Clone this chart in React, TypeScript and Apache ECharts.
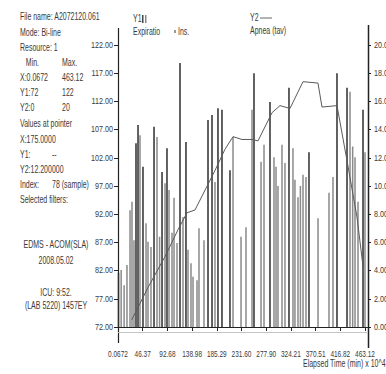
import React, { useEffect, useRef } from "react";
import * as echarts from "echarts";

// X axis (elapsed time) tick values and labels
const xTickValues = [0.0672, 46.37, 92.68, 138.98, 185.29, 231.6, 277.9, 324.21, 370.51, 416.82, 463.12];
const xTickLabels = ["0.0672", "46.37", "92.68", "138.98", "185.29", "231.60", "277.90", "324.21", "370.51", "416.82", "463.12"];
// Y1 (left) tick values
const y1Ticks = [72, 77, 82, 87, 92, 97, 102, 107, 112, 117, 122];
// Y2 (right) tick values
const y2Ticks = [0, 2, 4, 6, 8, 10, 12, 14, 16, 18, 20];

// Y1 bars: [elapsed time, value]
const darkBars: [number, number][] = [
  [1.0, 81.6], [33.8, 104.6], [37.6, 107.8], [46.9, 100.4], [67.6, 107.5],
  [82.6, 99.5], [91.9, 103.7], [116.3, 118.8], [127.5, 104.8], [168.8, 108.7],
  [176.3, 109.6], [187.5, 110.8], [195.0, 110.5], [210.0, 99.8], [255.0, 117.0],
  [285.0, 111.9], [320.6, 114.4], [358.1, 103.0], [410.6, 117.0], [429.4, 114.4],
  [459.4, 110.5],
];
const lightBars: [number, number][] = [
  [6.0, 82.1], [11.5, 79.4], [16.9, 83.0], [22.6, 92.7], [26.3, 94.2], [30.0, 87.4],
  [41.3, 106.0], [52.6, 90.4], [56.3, 87.1], [61.9, 86.2], [73.2, 105.7], [78.0, 88.0],
  [88.2, 97.5], [95.7, 96.3], [101.3, 88.7], [105.1, 94.9], [110.7, 86.9],
  [121.9, 91.5], [131.3, 85.7], [136.9, 83.3], [140.7, 80.9], [148.2, 80.3],
  [151.9, 89.5], [161.3, 87.4], [181.9, 97.7], [215.7, 105.7], [230.7, 88.0],
  [240.0, 89.7], [251.3, 110.5], [268.2, 101.3], [273.8, 104.3], [292.5, 102.1],
  [296.3, 100.4], [300.0, 97.0], [307.5, 104.3], [313.1, 101.1], [328.1, 103.7],
  [331.8, 98.1], [337.5, 95.0], [342.0, 97.0], [346.9, 99.0], [352.5, 98.6],
  [375.0, 91.3], [395.6, 95.8], [403.1, 98.6], [435.0, 113.7], [440.0, 104.0],
  [444.4, 102.1], [450.0, 94.2], [463.1, 103.0],
];
// Y2 line: [elapsed time, value]
const y2Line: [number, number][] = [
  [25.7, 0.5], [56.3, 2.8], [88.2, 5.0], [112.6, 6.9], [129.4, 8.1], [144.4, 8.3],
  [181.9, 11.1], [200.6, 12.6], [215.7, 13.5], [232.5, 13.3], [251.3, 13.3],
  [262.5, 13.2], [288.8, 15.2], [303.8, 15.7], [322.5, 15.5], [346.9, 17.4],
  [375.0, 17.3], [382.5, 15.6], [410.6, 15.7], [429.4, 11.8], [448.1, 7.8],
  [459.4, 4.3],
];

// Info panel text
const infoLines: [string, string][] = [
  ["File name: A2072120.061", ""],
  ["Mode: Bi-line", ""],
  ["Resource: 1", ""],
  ["   Min.", "Max."],
  ["X:0.0672", "463.12"],
  ["Y1:72", "122"],
  ["Y2:0", "20"],
  ["Values at pointer", ""],
  ["X:175.0000", ""],
  ["Y1:", "--"],
  ["Y2:12.200000", ""],
  ["Index:", "78 (sample)"],
  ["Selected filters:", ""],
];
const footerLines = ["EDMS - ACOM(SLA)", "2008.05.02", "", "ICU: 9:52.", "(LAB 5220) 1457EY"];

const FONT = "'Liberation Sans', Arial, sans-serif";
const TXT = "#3a3a3a";

export default function App() {
  const ref = useRef<HTMLDivElement>(null);
  useEffect(() => {
    if (!ref.current) return;
    const chart = echarts.init(ref.current, null, { renderer: "svg" });

    const txt = (text: string, x: number, y: number, sx: number, align = "left", size = 10) => ({
      type: "text", x, y, scaleX: sx,
      style: { text, fill: TXT, font: `${size}px ${FONT}`, align, verticalAlign: "middle" },
    });

    const graphics: any[] = [];
    const infoY = [17, 33, 48, 63, 78, 93, 108, 124, 140, 155, 170, 185, 200];
    infoLines.forEach((l, i) => {
      graphics.push(txt(l[0], 20, infoY[i], 0.7));
      if (l[1]) graphics.push(txt(l[1], i === 9 || i === 11 ? 52 : 62, infoY[i], 0.7));
    });
    const footY = [245, 261, 277, 293, 306];
    footerLines.forEach((t, i) => {
      if (t) graphics.push(txt(t, 56, footY[i], 0.7, "center"));
    });
    // Header legend
    graphics.push(txt("Y1", 133, 19, 0.7));
    graphics.push({ type: "rect", shape: { x: 142, y: 15, width: 1.5, height: 8 }, style: { fill: "#444" } });
    graphics.push({ type: "rect", shape: { x: 145, y: 15, width: 1.5, height: 8 }, style: { fill: "#888" } });
    graphics.push(txt("Expiratio", 133, 32, 0.7));
    graphics.push({ type: "rect", shape: { x: 174, y: 30, width: 2, height: 3 }, style: { fill: "#999" } });
    graphics.push(txt("Ins.", 178, 32, 0.7));
    graphics.push(txt("Y2", 250, 18, 0.7));
    graphics.push({ type: "line", shape: { x1: 260, y1: 18, x2: 272, y2: 18 }, style: { stroke: "#666", lineWidth: 1 } });
    graphics.push(txt("Apnea (tav)", 250, 31, 0.7));
    // Axis title
    graphics.push(txt("Elapsed Time (min) x 10^4", 303, 364, 0.7));
    // Axis line extensions and plot bottom line
    graphics.push({ type: "line", shape: { x1: 118.5, y1: 28, x2: 118.5, y2: 343 }, style: { stroke: "#222", lineWidth: 1.2 } });
    graphics.push({ type: "line", shape: { x1: 368.5, y1: 25, x2: 368.5, y2: 348 }, style: { stroke: "#222", lineWidth: 1.5 } });
    graphics.push({ type: "line", shape: { x1: 118, y1: 332.5, x2: 368, y2: 332.5 }, style: { stroke: "#c4c4c4", lineWidth: 1 } });

    chart.setOption({
      animation: false,
      backgroundColor: "#fff",
      grid: { left: 118, right: 18, top: 45, bottom: 47, containLabel: false },
      xAxis: {
        type: "value", min: 0.0672, max: 468.74, offset: 13,
        splitLine: { show: false },
        axisLine: { show: true, lineStyle: { color: "#222", width: 1 } },
        axisTick: { show: true, length: 4, customValues: xTickValues, lineStyle: { color: "#222" } },
        axisLabel: { show: false },
      },
      yAxis: [
        {
          type: "value", min: 72, max: 122, position: "left",
          splitLine: { show: false },
          axisLine: { show: false },
          axisTick: { show: true, length: 4, customValues: y1Ticks, lineStyle: { color: "#222" } },
          axisLabel: { show: false },
        },
        {
          type: "value", min: 0, max: 20, position: "right",
          splitLine: { show: false },
          axisLine: { show: false },
          axisTick: { show: true, length: 3, customValues: y2Ticks, lineStyle: { color: "#222" } },
          axisLabel: { show: false },
        },
      ],
      series: [
        {
          type: "bar", name: "Ins", data: lightBars, barWidth: 1.5, barGap: "-100%",
          itemStyle: { color: "#8a8a8a" }, yAxisIndex: 0,
        },
        {
          type: "bar", name: "Expiratio", data: darkBars, barWidth: 1.5, barGap: "-100%",
          itemStyle: { color: "#2e2e2e" }, yAxisIndex: 0,
        },
        {
          type: "line", name: "Apnea", data: y2Line, yAxisIndex: 1, showSymbol: false,
          lineStyle: { color: "#5a5a5a", width: 1 }, z: 5,
        },
      ],
      graphic: graphics,
    });

    // Axis tick labels placed through the library's own scales (condensed text)
    const labels: any[] = [];
    xTickValues.forEach((v, i) => {
      const px = chart.convertToPixel({ xAxisIndex: 0 }, v) as number;
      labels.push(txt(xTickLabels[i], px, 354, 0.72, "center", 9));
    });
    y1Ticks.forEach((v) => {
      const py = chart.convertToPixel({ yAxisIndex: 0 }, v) as number;
      labels.push(txt(v.toFixed(2), 113, py, 0.8, "right", 9));
    });
    y2Ticks.forEach((v) => {
      const py = chart.convertToPixel({ yAxisIndex: 1 }, v) as number;
      labels.push(txt(v >= 10 ? v.toFixed(2) : v.toFixed(3), 374, py, 0.8, "left", 9));
    });
    chart.setOption({ graphic: [...graphics, ...labels] });

    return () => chart.dispose();
  }, []);
  return <div ref={ref} style={{ position: "fixed", left: 0, top: 0, width: 386, height: 374 }} />;
}
